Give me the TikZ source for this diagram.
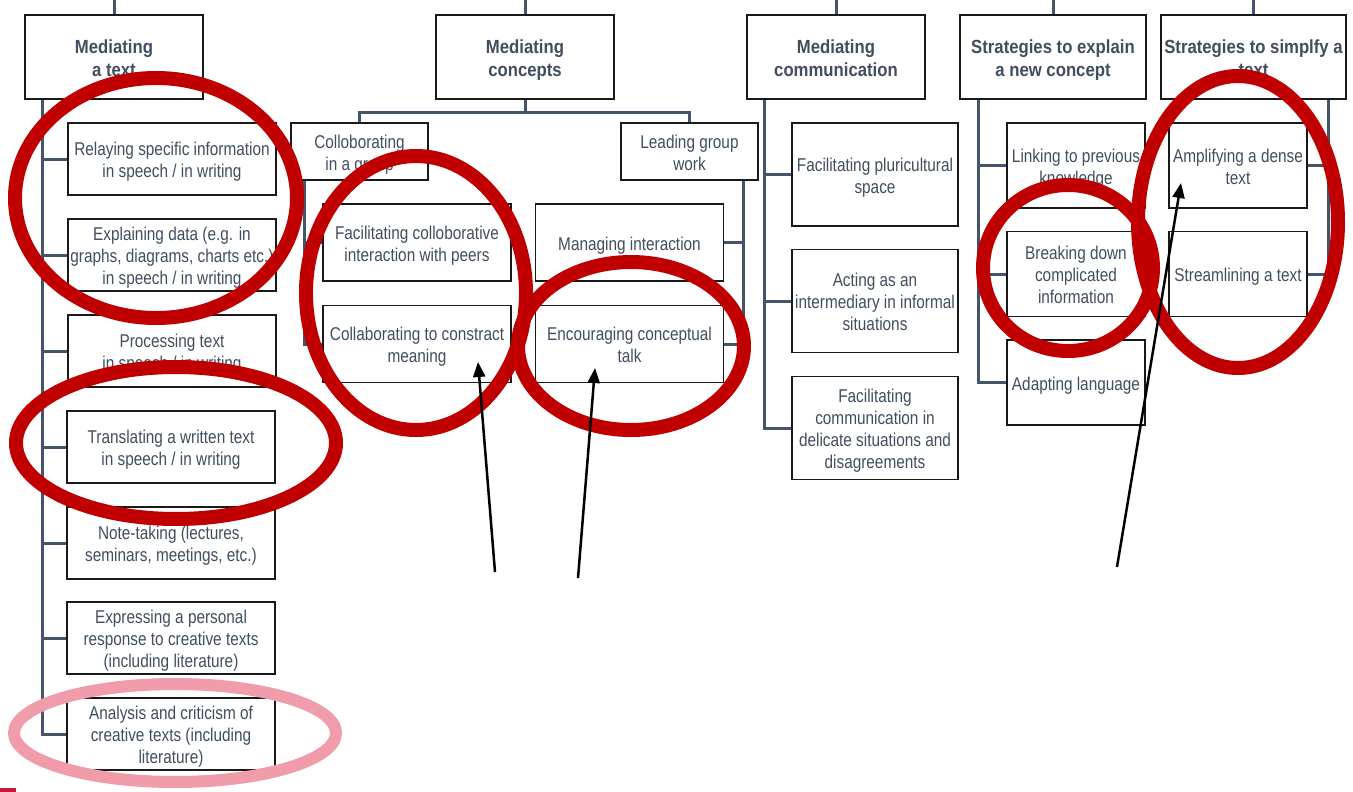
\documentclass[tikz,border=0pt]{standalone}
\usepackage{fontspec}
\setmainfont{Liberation Sans}[FakeStretch=0.83]
\newfontfamily\hdfont{Liberation Sans}[FakeStretch=0.88]
\usetikzlibrary{arrows.meta}
\definecolor{txtcol}{RGB}{64,78,96}
\definecolor{treecol}{RGB}{68,84,106}
\definecolor{ringred}{RGB}{192,0,0}
\definecolor{ringpink}{RGB}{240,156,170}
\definecolor{markred}{RGB}{190,30,60}
\newcommand\tpS{\rule{0pt}{20pt}}
\newcommand\btS{\rule[-5pt]{0pt}{5pt}}
\newcommand\htS{\rule{0pt}{21pt}}
\tikzset{
  basebox/.style={draw=black!90, line width=1.8pt, fill=white, inner sep=0pt, align=center, text=txtcol},
  hbox/.style={basebox, minimum height=84pt, font=\hdfont\bfseries\fontsize{19}{23}\selectfont},
  cbox/.style={basebox, font=\fontsize{18.5}{22}\selectfont},
  tree/.style={draw=treecol, line width=3pt},
  ring/.style={draw=ringred, line width=14pt},
  pinkring/.style={draw=ringpink, line width=12pt},
  pointer/.style={draw=black, line width=2.5pt, -{Triangle[length=15pt,width=12pt]}}
}
\begin{document}
\begin{tikzpicture}[x=1pt,y=-1pt]
\useasboundingbox (0,0) rectangle (1353,792);
% headers
\node[hbox, minimum width=178pt] (mt) at (114,57) {\htS Mediating\\a text\btS};
\node[hbox, minimum width=178pt] (mc) at (525,57) {\htS Mediating\\concepts\btS};
\node[hbox, minimum width=178pt] (mcm) at (836,57) {\htS Mediating\\communication\btS};
\node[hbox, minimum width=186pt] (se) at (1053,57) {\htS Strategies to explain\\a new concept\btS};
\node[hbox, minimum width=185pt] (ss) at (1253.5,57) {\htS Strategies to simplfy a\\text\btS};
% mediating a text
\tikzset{mtc/.style={cbox, minimum width=208pt, minimum height=72pt}}
\node[mtc] (r1) at (172,159) {\tpS Relaying specific information\\in speech / in writing\btS};
\node[mtc] (r2) at (172,255) {\tpS Explaining data (e.g. in\\graphs, diagrams, charts etc.)\\in speech / in writing\btS};
\node[mtc] (r3) at (172,351) {\tpS Processing text\\in speech / in writing\btS};
\node[mtc] (r4) at (171,447) {\tpS Translating a written text\\in speech / in writing\btS};
\node[mtc] (r5) at (171,543) {\tpS Note-taking (lectures,\\seminars, meetings, etc.)\btS};
\node[mtc] (r6) at (171,638) {\tpS Expressing a personal\\response to creative texts\\(including literature)\btS};
\node[mtc] (r7) at (171,734) {\tpS Analysis and criticism of\\creative texts (including\\literature)\btS};
% mediating concepts
\node[cbox, minimum width=137pt, minimum height=57pt] (cg) at (359.5,151.5) {\tpS Colloborating\\in a group\btS};
\node[cbox, minimum width=137pt, minimum height=57pt] (lg) at (689.5,151.5) {\tpS Leading group\\work\btS};
\tikzset{mcc/.style={cbox, minimum width=188pt, minimum height=77pt}}
\node[mcc] (fc) at (417,242.5) {\tpS Facilitating colloborative\\interaction with peers\btS};
\node[mcc] (cm) at (417,344) {\tpS Collaborating to constract\\meaning\btS};
\node[mcc] (mi) at (629.5,242.5) {\tpS Managing interaction\btS};
\node[mcc] (ec) at (629.5,344) {\tpS Encouraging conceptual\\talk\btS};
% mediating communication
\tikzset{mmc/.style={cbox, minimum width=166pt, minimum height=103pt}}
\node[mmc] (p1) at (875,174.5) {\tpS Facilitating pluricultural\\space\btS};
\node[mmc] (p2) at (875,301) {\tpS Acting as an\\intermediary in informal\\situations\btS};
\node[mmc] (p3) at (875,428) {\tpS Facilitating\\communication in\\delicate situations and\\disagreements\btS};
% explain
\tikzset{sec/.style={cbox, minimum width=138pt, minimum height=85pt}}
\node[sec] (e1) at (1076,165.5) {\tpS Linking to previous\\knowledge\btS};
\node[sec] (e2) at (1076,274) {\tpS Breaking down\\complicated\\information\btS};
\node[sec] (e3) at (1076,382.5) {\tpS Adapting language\btS};
% simplify
\node[sec] (s1) at (1238,165.5) {\tpS Amplifying a dense\\text\btS};
\node[sec] (s2) at (1238,274) {\tpS Streamlining a text\btS};
% tree lines
\foreach \n in {mt,mc,mcm,se,ss} {\draw[tree] (\n.north) -- ++(0,-15);}
\foreach \c in {r1,r2,r3,r4,r5,r6,r7} {\draw[tree] ([xshift=18pt]mt.south west) |- (\c.west);}
\draw[tree] (mc.south) -- ++(0,13) coordinate (mcbar);
\draw[tree] (mcbar) -| (cg.north);
\draw[tree] (mcbar) -| (lg.north);
\draw[tree] ([xshift=14pt]cg.south west) |- (fc.west);
\draw[tree] ([xshift=14pt]cg.south west) |- (cm.west);
\draw[tree] ([xshift=-15pt]lg.south east) |- (mi.east);
\draw[tree] ([xshift=-15pt]lg.south east) |- (ec.east);
\foreach \c in {p1,p2,p3} {\draw[tree] ([xshift=18pt]mcm.south west) |- (\c.west);}
\foreach \c in {e1,e2,e3} {\draw[tree] ([xshift=19pt]se.south west) |- (\c.west);}
\foreach \c in {s1,s2} {\draw[tree] ([xshift=-18pt]ss.south east) |- (\c.east);}
% annotation rings
\draw[ring] (156,198) ellipse [x radius=141pt, y radius=120pt];
\draw[ring] (176,443) ellipse [x radius=160pt, y radius=76pt];
\draw[ring] (416,293) ellipse [x radius=110pt, y radius=137pt];
\draw[ring] (631,346) ellipse [x radius=113pt, y radius=84pt];
\draw[ring] (1068,268) ellipse [x radius=85pt, y radius=83pt];
\draw[ring] (1238,222) ellipse [x radius=100pt, y radius=146pt];
\draw[pinkring] (175,733) ellipse [x radius=161pt, y radius=49pt];
\fill[markred] (0,788) rectangle (16,792);
% arrows
\coordinate (a1s) at (495,572); \coordinate (a1e) at (478,362);
\coordinate (a2s) at (578,578); \coordinate (a2e) at (595,368);
\coordinate (a3s) at (1117,567); \coordinate (a3e) at (1181,183);
\draw[pointer] (a1s) -- (a1e);
\draw[pointer] (a2s) -- (a2e);
\draw[pointer] (a3s) -- (a3e);
\end{tikzpicture}
\end{document}
